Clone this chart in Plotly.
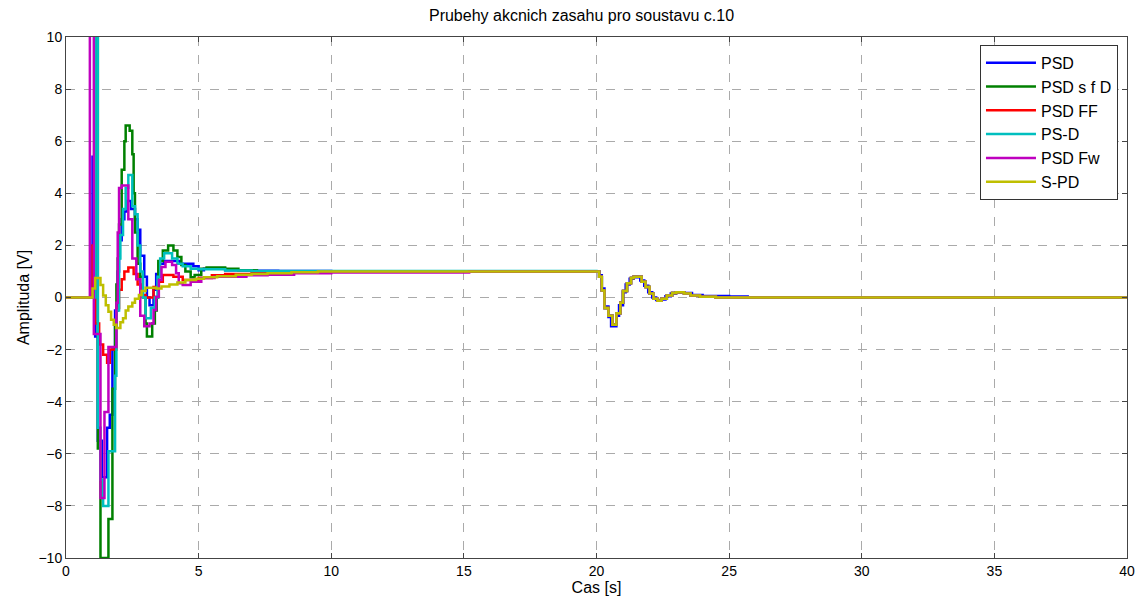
import plotly.graph_objects as go

# ---------------- data ----------------
series_names = ["PSD", "PSD s f D", "PSD FF", "PS-D", "PSD Fw", "S-PD"]
series_colors = ["#0000FF", "#008000", "#FF0000", "#00BFBF", "#BF00BF", "#BFBF00"]

# first transient (step start at t = 1 s), zero-order-hold breakpoints
t_psd = [0.0, 1.0, 1.1, 1.2, 1.35, 1.55, 1.65, 1.75, 1.85, 1.95, 2.0, 2.1, 2.2, 2.3, 2.45, 2.6, 2.7, 2.8,
         2.95, 3.05, 3.15, 3.3, 3.4, 3.5, 3.7, 4.3, 4.8, 5.0, 5.2, 5.6, 6.0, 7.0, 8.0, 10.0]
v_psd = [0.0, 5.4, -1.5, -5.5, -6.9, -5.0, -4.5, -2.0, -0.5, 1.0, 2.2, 3.0, 3.3, 3.7, 3.4, 3.0, 2.6, 1.6,
         0.8, 0.0, -0.3, 0.3, 0.9, 1.3, 1.4, 1.3, 1.2, 1.05, 1.1, 1.1, 1.05, 1.03, 1.02, 1.0]

t_psdfd = [0.0, 1.1, 1.2, 1.3, 1.6, 1.75, 1.85, 1.9, 1.95, 2.0, 2.1, 2.2, 2.25, 2.4, 2.5, 2.55, 2.6, 2.7,
           2.8, 2.9, 3.0, 3.05, 3.25, 3.35, 3.42, 3.48, 3.65, 3.85, 4.05, 4.2, 4.35, 4.5, 4.7, 4.85, 5.1,
           5.3, 6.0, 6.5, 7.2]
v_psdfd = [0.0, 12.0, -5.8, -10.0, -8.5, -3.5, -1.0, 0.5, 1.5, 2.8, 4.9, 6.0, 6.6, 6.4, 5.5, 4.0, 2.5, 1.3,
           0.8, 0.0, -1.0, -1.5, -1.0, -0.5, 0.0, 1.4, 1.8, 2.0, 1.8, 1.55, 1.25, 1.0, 0.78, 0.86, 1.1,
           1.15, 1.1, 1.05, 1.0]

t_psdff = [0.0, 1.0, 1.1, 1.25, 1.4, 1.55, 1.65, 1.9, 2.0, 2.1, 2.2, 2.35, 2.55, 2.7, 2.85, 3.0, 3.3,
           3.5, 3.65, 4.05, 4.4, 5.0, 5.5, 6.0, 7.0, 8.0]
v_psdff = [0.0, 2.0, -1.0, -1.8, -2.2, -2.5, -2.0, -0.4, 0.3, 0.7, 1.0, 1.15, 0.9, 0.5, 0.1, 0.0, 0.4,
           0.6, 0.86, 0.8, 0.67, 0.75, 0.85, 0.9, 0.95, 1.0]

t_psd2 = [0.0, 1.1, 1.2, 1.3, 1.4, 1.6, 1.85, 1.9, 2.0, 2.05, 2.15, 2.25, 2.35, 2.5, 2.6, 2.7, 2.8, 2.9,
          3.0, 3.2, 3.35, 3.45, 3.55, 3.7, 4.0, 4.2, 4.4, 4.7, 5.0, 6.0, 7.0]
v_psd2 = [0.0, 12.0, -5.0, -7.0, -8.0, -5.9, -3.0, -0.5, 1.5, 2.4, 3.4, 4.2, 4.7, 3.5, 3.2, 2.0, 1.0, 0.0,
          -0.8, -0.4, 0.0, 0.8, 1.5, 1.7, 1.5, 1.3, 1.2, 1.1, 1.08, 1.04, 1.02]

t_psdfw = [0.0, 0.9, 1.05, 1.3, 1.45, 1.6, 1.9, 1.95, 2.0, 2.1, 2.35, 2.5, 2.65, 2.8, 2.95, 3.15, 3.3,
           3.4, 3.5, 3.6, 3.75, 4.0, 4.15, 4.25, 4.4, 4.7, 5.1, 5.6, 6.2, 6.8, 7.6, 8.6, 10.0, 15.2]
v_psdfw = [0.0, 16.0, -1.4, -7.7, -4.4, -1.9, -0.2, 2.5, 4.2, 4.3, 3.0, 1.5, 0.7, -0.7, -1.1, -1.0, -0.48,
           0.03, 0.67, 1.17, 1.37, 1.25, 0.93, 0.55, 0.48, 0.6, 0.75, 0.8, 0.8, 0.85, 0.87, 0.93, 0.96, 1.0]

t_spd = [0.0, 1.0, 1.1, 1.3, 1.4, 1.5, 1.6, 1.7, 1.8, 1.9, 2.05, 2.15, 2.25, 2.35, 2.5, 2.6, 2.75, 2.85,
         3.0, 3.4, 3.6, 3.9, 4.2, 4.5, 4.9, 5.2, 5.7, 6.4, 7.0, 7.6, 8.5, 9.5]
v_spd = [0.0, 0.35, 0.75, 0.48, 0.08, -0.3, -0.55, -0.85, -1.05, -1.17, -0.95, -0.8, -0.5, -0.35, -0.2,
         -0.05, 0.1, 0.25, 0.37, 0.35, 0.42, 0.5, 0.58, 0.67, 0.72, 0.78, 0.82, 0.87, 0.9, 0.93, 0.97, 1.0]

# second transient (step down at t = 20 s)
t_tail = [20.0, 20.1, 20.2, 20.3, 20.45, 20.6, 20.75, 20.9, 21.0, 21.15, 21.3, 21.4, 21.7, 21.85, 22.0,
          22.15, 22.3, 22.45, 22.65, 22.85, 23.0, 23.3, 23.55, 23.9, 24.5, 40.0]
v_tail = [1.0, 0.8, 0.27, -0.4, -0.7, -1.05, -0.6, -0.2, 0.25, 0.55, 0.75, 0.8, 0.6, 0.4, 0.15,
          -0.05, -0.12, -0.05, 0.08, 0.17, 0.2, 0.15, 0.08, 0.03, 0.0, 0.0]

t_tail_psd = [20.0, 20.1, 20.2, 20.3, 20.45, 20.55, 20.75, 20.85, 21.0, 21.1, 21.25, 21.4, 21.65, 21.8,
              21.95, 22.1, 22.25, 22.45, 22.6, 22.8, 23.0, 23.3, 23.6, 24.0, 25.0, 25.7, 40.0]
v_tail_psd = [1.0, 0.85, 0.35, -0.35, -0.75, -1.1, -0.7, -0.3, 0.2, 0.5, 0.72, 0.78, 0.65, 0.45,
              0.2, 0.0, -0.1, -0.08, 0.05, 0.15, 0.2, 0.17, 0.1, 0.06, 0.04, 0.0, 0.0]

first_t = [t_psd, t_psdfd, t_psdff, t_psd2, t_psdfw, t_spd]
first_v = [v_psd, v_psdfd, v_psdff, v_psd2, v_psdfw, v_spd]
tail_t = [t_tail_psd, t_tail, t_tail, t_tail, t_tail, t_tail]
tail_v = [v_tail_psd, v_tail, v_tail, v_tail, v_tail, v_tail]

x_ticks = [0, 5, 10, 15, 20, 25, 30, 35, 40]
y_ticks = [-10, -8, -6, -4, -2, 0, 2, 4, 6, 8, 10]

# ---------------- figure ----------------
fig = go.Figure()
for name, col, ta, va, tb, vb in zip(series_names, series_colors, first_t, first_v, tail_t, tail_v):
    fig.add_trace(go.Scatter(
        x=ta + tb, y=va + vb, mode="lines", name=name,
        line=dict(color=col, width=2.5, shape="hv"),
    ))

font_family = "Liberation Sans, Arial, Helvetica, sans-serif"
axis_common = dict(
    showline=True, linecolor="#444444", linewidth=1, mirror="ticks",
    ticks="inside", ticklen=5, tickcolor="#444444",
    showgrid=True, gridcolor="#aaaaaa", gridwidth=1, griddash="dash",
    zeroline=False, tickfont=dict(size=14, color="#000000", family=font_family),
)

fig.update_layout(
    width=1147, height=606,
    margin=dict(l=58, r=28, t=29, b=56, autoexpand=False),
    paper_bgcolor="white", plot_bgcolor="white",
    font=dict(family=font_family, color="#000000"),
    title=dict(text="Prubehy akcnich zasahu pro soustavu c.10", x=0.5, xanchor="center",
               y=0.988, yanchor="middle", font=dict(size=16)),
    xaxis=dict(range=[0, 40], tickvals=x_ticks,
               title=dict(text="Cas [s]", font=dict(size=16), standoff=2), **axis_common),
    yaxis=dict(range=[-10, 10], tickvals=y_ticks,
               title=dict(text="Amplituda [V]", font=dict(size=16), standoff=4), **axis_common),
    legend=dict(x=0.9915, y=0.985, xanchor="right", yanchor="top", bgcolor="white",
                bordercolor="#333333", borderwidth=1, font=dict(size=16, family=font_family),
                tracegroupgap=0, itemwidth=50),
    showlegend=True,
)

fig.write_html("out.html")
